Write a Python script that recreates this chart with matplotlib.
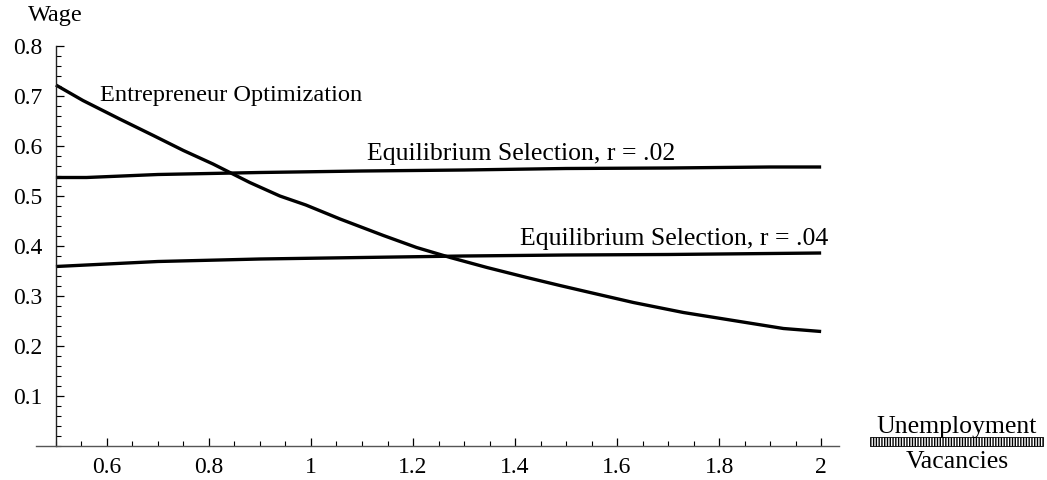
import matplotlib
matplotlib.use("Agg")
import matplotlib.pyplot as plt
from matplotlib.patches import Rectangle
from matplotlib.ticker import MultipleLocator, FixedLocator

# ---- data ----
ent_x = [0.5, 0.553, 0.625, 0.691, 0.75, 0.808, 0.88, 0.939, 0.99, 1.057, 1.142,
         1.207, 1.273, 1.345, 1.423, 1.488, 1.547, 1.632, 1.73, 1.828, 1.926, 2.0]
ent_y = [0.722, 0.691, 0.654, 0.621, 0.591, 0.564, 0.527, 0.50, 0.482, 0.454, 0.421,
         0.397, 0.377, 0.357, 0.337, 0.321, 0.307, 0.287, 0.267, 0.251, 0.235, 0.229]

eq02_x = [0.5, 0.56, 0.7, 0.9, 1.1, 1.3, 1.5, 1.7, 1.9, 2.0]
eq02_y = [0.537, 0.537, 0.543, 0.547, 0.550, 0.552, 0.555, 0.556, 0.558, 0.558]

eq04_x = [0.5, 0.7, 0.9, 1.1, 1.3, 1.5, 1.7, 1.9, 2.0]
eq04_y = [0.359, 0.369, 0.374, 0.377, 0.380, 0.382, 0.383, 0.385, 0.386]

x_ticks = [0.6, 0.8, 1.0, 1.2, 1.4, 1.6, 1.8, 2.0]
x_tick_labels = ["0.6", "0.8", "1", "1.2", "1.4", "1.6", "1.8", "2"]
y_ticks = [0.1, 0.2, 0.3, 0.4, 0.5, 0.6, 0.7, 0.8]
y_tick_labels = ["0.1", "0.2", "0.3", "0.4", "0.5", "0.6", "0.7", "0.8"]

labels = ["Entrepreneur Optimization", "Equilibrium Selection, r = .02",
          "Equilibrium Selection, r = .04"]

plt.rcParams['font.family'] = ['Liberation Serif', 'DejaVu Serif']

fig = plt.figure(figsize=(10.47, 4.8), dpi=100)
ax = fig.add_axes([36/1047, 34/480, 803/1047, 400/480])
ax.set_xlim(0.461, 2.035)
ax.set_ylim(0, 0.8)

for xs, ys in [(ent_x, ent_y), (eq02_x, eq02_y), (eq04_x, eq04_y)]:
    ax.plot(xs, ys, color='black', lw=2.4, solid_capstyle='butt', clip_on=False)

for s in ['top', 'right']:
    ax.spines[s].set_visible(False)
ax.spines['left'].set_position(('data', 0.5))
ax.spines['bottom'].set_position(('data', 0))
ax.spines['left'].set_color('#222222')
ax.spines['bottom'].set_color('#555555')
ax.spines['left'].set_linewidth(1.0)
ax.spines['bottom'].set_linewidth(1.0)

ax.xaxis.set_major_locator(FixedLocator(x_ticks))
ax.set_xticklabels(x_tick_labels)
ax.xaxis.set_minor_locator(MultipleLocator(0.05))
ax.yaxis.set_major_locator(FixedLocator(y_ticks))
ax.set_yticklabels(y_tick_labels)
ax.yaxis.set_minor_locator(MultipleLocator(0.02))

ax.tick_params(axis='both', which='major', direction='in', length=6, width=0.9,
               labelsize=17, color='black')
ax.tick_params(axis='both', which='minor', direction='in', length=3.5, width=0.8,
               color='black')
ax.tick_params(axis='x', which='major', pad=8)
ax.tick_params(axis='y', which='major', pad=10)

ax.text(0.586, 0.70, labels[0], fontsize=17.6, va='center', ha='left')
ax.text(1.11, 0.584, labels[1], fontsize=18.5, va='center', ha='left')
ax.text(1.41, 0.414, labels[2], fontsize=18.5, va='center', ha='left')

# y label
fig.text(28/1047, 1 - 16/480, "Wage", fontsize=17.5, ha='left', va='center')

# x label as a fraction
fig.text(957/1047, 1 - 427/480, "Unemployment", fontsize=18.5, ha='center', va='center')
fig.text(957/1047, 1 - 462/480, "Vacancies", fontsize=18.5, ha='center', va='center')
bar = Rectangle((870/1047, 1 - 446/480), 173/1047, 9/480, transform=fig.transFigure,
                facecolor='white', edgecolor='black', hatch='||||||', lw=0.6)
fig.patches.append(bar)

fig.savefig("out.png", dpi=100)
